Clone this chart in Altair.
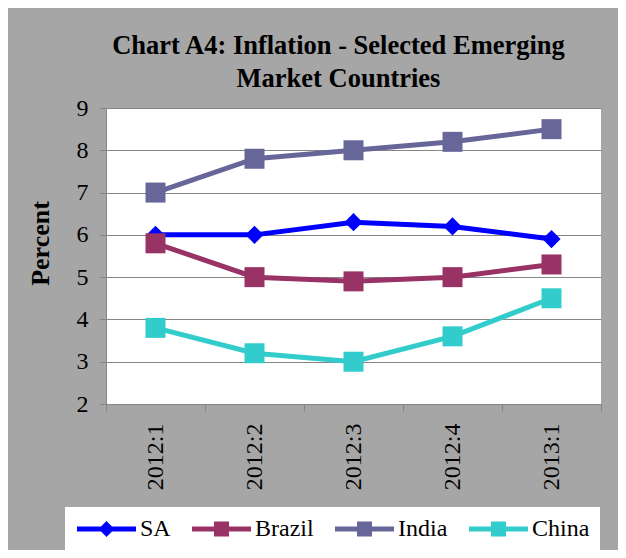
import altair as alt
import pandas as pd

periods = ["2012:1", "2012:2", "2012:3", "2012:4", "2013:1"]
series = ["SA", "Brazil", "India", "China"]
sa = [6.0, 6.0, 6.3, 6.2, 5.9]
brazil = [5.8, 5.0, 4.9, 5.0, 5.3]
india = [7.0, 7.8, 8.0, 8.2, 8.5]
china = [3.8, 3.2, 3.0, 3.6, 4.5]
colors = ["#0000ff", "#993366", "#666699", "#33cccc"]
y_ticks = [2, 3, 4, 5, 6, 7, 8, 9]
title_lines = ["Chart A4: Inflation - Selected Emerging", "Market Countries"]

rows = []
for name, vals in zip(series, [sa, brazil, india, china]):
    for p, v in zip(periods, vals):
        rows.append({"period": p, "series": name, "value": v})
df = pd.DataFrame(rows)

FONT = "Liberation Serif"
GREY = "#868686"

# legend symbols: line stub + marker (path units: 1 unit = 10px at size 400)
diamond_path = "M-1,-0.25L4.9,-0.25L4.9,0.25L-1,0.25Z M1.95,-0.8L2.75,0L1.95,0.8L1.15,0Z"
square_path = "M-1,-0.25L4.9,-0.25L4.9,0.25L-1,0.25Z M1.2,-0.75L2.7,-0.75L2.7,0.75L1.2,0.75Z"
legend_shapes = [diamond_path, square_path, square_path, square_path]

x = alt.X(
    "period:N",
    sort=periods,
    scale=alt.Scale(type="band", paddingInner=0, paddingOuter=0),
    axis=alt.Axis(
        title=None, labelAngle=270, tickBand="extent", grid=False,
        labelFont=FONT, labelFontSize=24, labelColor="black", labelPadding=12,
        tickSize=7, tickColor=GREY, domainColor=GREY,
    ),
)
y = alt.Y(
    "value:Q",
    scale=alt.Scale(domain=[2, 9], nice=False, zero=False),
    axis=alt.Axis(
        title="Percent", values=y_ticks, grid=True, gridColor=GREY,
        labelFont=FONT, labelFontSize=24, labelColor="black", labelPadding=11,
        tickSize=7, tickColor=GREY, domainColor=GREY,
        titleFont=FONT, titleFontSize=26, titleFontWeight="bold", titleColor="black",
        titleAngle=270, titleAlign="center", titleBaseline="middle",
        titleX=-66, titleY=135,
    ),
)
color_nolegend = alt.Color("series:N", scale=alt.Scale(domain=series, range=colors), legend=None)

base = alt.Chart(df)

leg = alt.Legend(
    title=None, orient="none", legendX=-41, legendY=399, direction="horizontal",
    columns=4, fillColor="white", padding=10, symbolSize=400, symbolStrokeWidth=0,
    symbolOpacity=1, labelFont=FONT, labelFontSize=24, labelColor="black",
    labelOffset=41, columnPadding=19,
)

legend_layer = base.transform_filter("false").mark_point(filled=True, opacity=1).encode(
    x=x, y=y,
    color=alt.Color("series:N", scale=alt.Scale(domain=series, range=colors), legend=leg),
    shape=alt.Shape("series:N", scale=alt.Scale(domain=series, range=legend_shapes), legend=leg),
)

lines = base.mark_line(strokeWidth=5).encode(x=x, y=y, color=color_nolegend, detail="series:N")

pts_sa = base.transform_filter(alt.datum.series == "SA").mark_point(
    filled=True, opacity=1, shape="diamond", size=330
).encode(x=x, y=y, color=color_nolegend)

pts_sq = base.transform_filter(alt.datum.series != "SA").mark_point(
    filled=True, opacity=1, shape="square", size=400
).encode(x=x, y=y, color=color_nolegend)

chart = alt.layer(legend_layer, lines, pts_sa, pts_sq).properties(
    width=495,
    height=296,
    autosize=alt.AutoSizeParams(type="none"),
    padding={"left": 98, "top": 100, "right": 17, "bottom": 146},
    background="#a6a6a6",
    title=alt.Title(
        title_lines, font=FONT, fontSize=26.5, fontWeight="bold", color="black",
        anchor="middle", dx=-15, offset=4, lineHeight=33,
    ),
).configure(font=FONT).configure_view(fill="white", stroke=None).configure_legend(
    labelFont=FONT, labelFontSize=24, labelColor="black"
)

chart.save("out.html", embed_options={"renderer": "svg", "actions": False})
